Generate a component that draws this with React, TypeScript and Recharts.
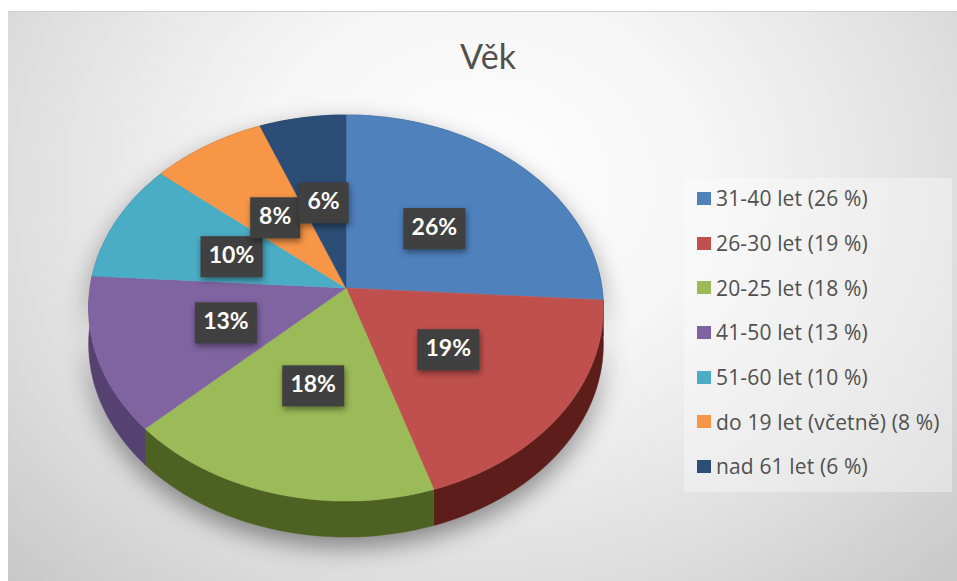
import { Legend, Pie, PieChart } from "recharts";

const categories = ["31-40 let", "26-30 let", "20-25 let", "41-50 let", "51-60 let", "do 19 let (včetně)", "nad 61 let"];
const shares = [26, 19, 18, 13, 10, 8, 6];
const topColors = ["#4f81bd", "#c0504d", "#9bbb59", "#8064a2", "#4bacc6", "#f79646", "#2c4d75"];
const sideColors = ["#2a4a70", "#5c1d1b", "#4d6222", "#564270", "#2a6b7d", "#99561f", "#1a2f48"];

const slices = categories.map((name, i) => ({
  name: `${name} (${shares[i]} %)`,
  value: shares[i],
  fill: topColors[i],
}));
const sides = slices.map((s, i) => ({ ...s, fill: sideColors[i] }));

const WIDTH = 957;
const HEIGHT = 581;
const SQUASH = 0.746;
const PERSPECTIVE = 0.1036;
const DEPTH = 36;

// the picture is a tilted 3D pie, so every point goes through this projection
function project(cx: number, cy: number, r: number, angle: number, f = 1) {
  const rad = (angle * Math.PI) / 180;
  const u = Math.cos(rad) * f;
  const v = -Math.sin(rad) * f;
  const s = 1 / (1 - PERSPECTIVE * v);
  return [cx + r * u * s, cy + r * SQUASH * v * s];
}

function arcPoints(cx: number, cy: number, r: number, start: number, end: number) {
  const steps = Math.max(2, Math.ceil(Math.abs(end - start) / 2));
  const points: number[][] = [];
  for (let i = 0; i <= steps; i++) {
    points.push(project(cx, cy, r, start + ((end - start) * i) / steps));
  }
  return points;
}

const toPath = (points: number[][]) =>
  points.map((p, i) => `${i === 0 ? "M" : "L"}${p[0].toFixed(1)},${p[1].toFixed(1)}`).join(" ") + " Z";

function TopSlice({ cx, cy, outerRadius, startAngle, endAngle, fill }: any) {
  const points = [[cx, cy], ...arcPoints(cx, cy, outerRadius, startAngle, endAngle)];
  return <path d={toPath(points)} fill={fill} stroke={fill} strokeWidth={0.5} />;
}

function SideSlice({ cx, cy, outerRadius, startAngle, endAngle, fill }: any) {
  const rim = arcPoints(cx, cy, outerRadius, startAngle, endAngle);
  const lower = rim.map((p) => [p[0], p[1] + DEPTH]).reverse();
  return <path d={toPath([...rim, ...lower])} fill={fill} stroke={fill} strokeWidth={0.5} />;
}

function BoxLabel({ cx, cy, outerRadius, midAngle, value }: any) {
  const [x, y] = project(cx, cy, outerRadius, midAngle, 0.49);
  const boxW = value >= 10 ? 62 : 50;
  return (
    <g>
      <rect
        x={x - boxW / 2}
        y={y - 18}
        width={boxW}
        height={41}
        fill="#404040"
        style={{ filter: "drop-shadow(1px 3px 3px rgba(0,0,0,0.45))" }}
      />
      <text
        x={x}
        y={y + 3}
        textAnchor="middle"
        dominantBaseline="middle"
        fill="#ffffff"
        fontFamily="Lato"
        fontWeight={700}
        fontSize={23}
      >
        {value}%
      </text>
    </g>
  );
}

function AgeLegend({ payload }: any) {
  const items = (payload ?? []).filter((entry: any) => topColors.includes(entry.color));
  return (
    <div style={{ width: 268, height: 314, background: "rgba(255,255,255,0.35)" }}>
      {items.map((entry: any) => (
        <div
          key={entry.value}
          style={{ height: 44.7, position: "relative", top: -2, display: "flex", alignItems: "center", paddingLeft: 13, color: "#505050", fontFamily: "Open Sans", fontSize: 21, letterSpacing: 0.15, whiteSpace: "nowrap" }}
        >
          <span style={{ width: 14, height: 13, background: entry.color, marginRight: 5, flex: "none" }} />
          {entry.value}
        </div>
      ))}
    </div>
  );
}

export default function App() {
  return (
    <div style={{ width: WIDTH, height: HEIGHT, position: "absolute", left: 0, top: 0, background: "#fff", overflow: "hidden" }}>
      <style>{`.pie-side { filter: drop-shadow(0 10px 12px rgba(0,0,0,0.42)); }`}</style>
      <div
        style={{
          position: "absolute",
          left: 8,
          top: 11,
          width: 949,
          height: 570,
          borderTop: "1px solid #cfcfcf",
          boxSizing: "border-box",
          background: "radial-gradient(ellipse farthest-corner at 50% 30%, #ffffff 0%, #f5f5f5 35%, #dfdfdf 70%, #c8c8c8 100%)",
        }}
      />
      <PieChart width={WIDTH} height={HEIGHT} margin={{ top: 0, right: 0, bottom: 0, left: 0 }} style={{ position: "absolute", left: 0, top: 0 }}>
        <text x={488} y={60} textAnchor="middle" dominantBaseline="middle" fontFamily="Lato" fontSize={34} fill="#505050">
          Věk
        </text>
        <Pie
          className="pie-side"
          data={sides}
          dataKey="value"
          nameKey="name"
          cx={346}
          cy={288}
          outerRadius={256}
          startAngle={90}
          endAngle={-270}
          shape={SideSlice}
          legendType="none"
          isAnimationActive={false}
        />
        <Pie
          data={slices}
          dataKey="value"
          nameKey="name"
          cx={346}
          cy={288}
          outerRadius={256}
          startAngle={90}
          endAngle={-270}
          shape={TopSlice}
          label={BoxLabel}
          labelLine={false}
          isAnimationActive={false}
        />
        <Legend
          layout="vertical"
          content={AgeLegend}
          itemSorter={null}
          wrapperStyle={{ left: 684, top: 178, width: 268, bottom: "auto", right: "auto" }}
        />
      </PieChart>
    </div>
  );
}
